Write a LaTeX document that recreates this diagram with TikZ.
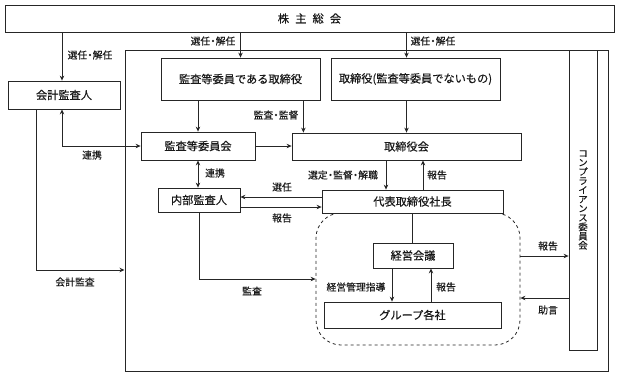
\documentclass[tikz,border=0pt]{standalone}
\usepackage{fontspec}
\setmainfont{Noto Sans CJK JP}[FakeBold=0.3]
\usetikzlibrary{arrows.meta}
\newcommand{\ndot}{\kern-0.22em・\kern-0.22em}
\tikzset{
  box/.style={draw=black!85, line width=0.8pt, fill=white, inner sep=0pt, font=\fontsize{11.2}{12}\selectfont, text=black!90},
  lbl/.style={font=\fontsize{9.8}{10}\selectfont, text=black!90, inner sep=0pt},
  ln/.style={draw=black!85, line width=0.9pt},
  arr/.style={ln, -{Stealth[length=5pt,width=4.5pt]}},
  arrb/.style={ln, {Stealth[length=5pt,width=4.5pt]}-{Stealth[length=5pt,width=4.5pt]}},
}
\begin{document}
\begin{tikzpicture}[x=1pt,y=-1pt]
\useasboundingbox (0,0) rectangle (619,376);
% frames
\node[draw=black!85, line width=1pt, minimum width=483pt, minimum height=321pt, inner sep=0pt] (outer) at (366.5,210.5) {};
\node[draw=black!85, line width=0.8pt, dashed, rounded corners=25pt, minimum width=204pt, minimum height=132pt, inner sep=0pt] (dash) at (418,279) {};
% boxes
\node[box, minimum width=609pt, minimum height=27pt] (sh) at (309.5,18.5) {株\hspace{0.55em}主\hspace{0.55em}総\hspace{0.55em}会};
\node[box, minimum width=112pt, minimum height=28pt] (aud) at (64,95) {会計監査人};
\node[box, minimum width=159pt, minimum height=42pt] (adir) at (240.5,79) {監査等委員である取締役};
\node[box, minimum width=169pt, minimum height=42pt] (dir) at (415.5,79) {取締役(監査等委員でないもの)};
\node[box, minimum width=114pt, minimum height=28pt] (ac) at (198,146) {監査等委員会};
\node[box, minimum width=229pt, minimum height=27pt] (bod) at (406.5,146.5) {取締役会};
\node[box, minimum width=82pt, minimum height=24pt] (ia) at (199,200) {内部監査人};
\node[box, minimum width=181pt, minimum height=23pt] (ceo) at (412.5,201.5) {代表取締役社長};
\node[box, minimum width=80pt, minimum height=25pt] (mc) at (413,255.5) {経営会議};
\node[box, minimum width=177pt, minimum height=26pt] (grp) at (412.5,315) {グループ各社};
\node[box, minimum width=28pt, minimum height=300pt, align=center, font=\fontsize{9.4}{9.2}\selectfont] (comp) at (583,200) {コ\\ン\\プ\\ラ\\イ\\ア\\ン\\ス\\委\\員\\会};
% connectors
\draw[arr] ([xshift=-2pt]aud.north |- sh.south) -- ([xshift=-2pt]aud.north);
\node[lbl] (l1) at (90,55) {選任\ndot 解任};
\draw[arr] (adir.north |- sh.south) -- (adir.north);
\node[lbl] (l2) at (213,41) {選任\ndot 解任};
\draw[arr] (bod.north |- sh.south) -- (bod.north |- dir.north);
\node[lbl] (l3) at (433,41) {選任\ndot 解任};
\draw[arr] (bod.north |- dir.south) -- (bod.north);
\draw[arr] (ac.north |- adir.south) -- (ac.north);
\draw[arr] ([xshift=-17pt]adir.south east) -- ([xshift=-17pt]adir.south east |- bod.north);
\node[lbl] (l4) at (276,115) {監査\ndot 監督};
\draw[arr] (ac.east) -- (ac.east -| bod.west);
\draw[arrb] ([xshift=-2pt]aud.south) |- (ac.west);
\node[lbl] (l5) at (92,155) {連携};
\draw[arrb] (ac.south) -- (ac.south |- ia.north);
\node[lbl] (l6) at (215,173) {連携};
\draw[arr] ([yshift=4.5pt]ceo.west) -- ([yshift=4.5pt]ceo.west -| ia.east);
\node[lbl] (l7) at (282,187) {選任};
\draw[arr] ([yshift=-5.5pt]ceo.west -| ia.east) -- ([yshift=-5.5pt]ceo.west);
\node[lbl] (l8) at (282,218) {報告};
\draw[arr] ([xshift=-20.5pt]bod.south) -- ([xshift=-20.5pt]bod.south |- ceo.north);
\node[lbl] (l9) at (343,175) {選定\ndot 監督\ndot 解職};
\draw[arr] ([xshift=16.5pt]bod.south |- ceo.north) -- ([xshift=16.5pt]bod.south);
\node[lbl] (l10) at (437,175) {報告};
\draw[ln] (ceo.south) -- (ceo.south |- mc.north);
\draw[arr] ([xshift=-21pt]mc.south) -- ([xshift=-21pt]mc.south |- grp.north);
\node[lbl] (l11) at (356,287) {経営管理指導};
\draw[arr] ([xshift=18pt]mc.south |- grp.north) -- ([xshift=18pt]mc.south);
\node[lbl] (l12) at (446,287) {報告};
\draw[arr] ([yshift=23pt]dash.east) -- ([yshift=23pt]dash.east -| comp.west);
\node[lbl] (l13) at (548,246) {報告};
\draw[arr] ([yshift=-19pt]dash.east -| comp.west) -- ([yshift=-19pt]dash.east);
\node[lbl] (l14) at (548,310) {助言};
\draw[arr] (ia.south) |- (dash.west);
\node[lbl] (l15) at (252,291) {監査};
\draw[arr] ([xshift=-28pt]aud.south) |- ([yshift=-59.5pt]outer.west);
\node[lbl] (l16) at (75,282) {会計監査};
\end{tikzpicture}
\end{document}
